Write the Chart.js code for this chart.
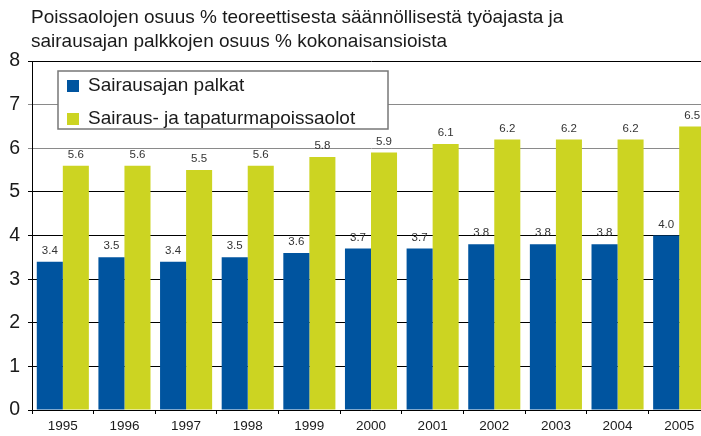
<!DOCTYPE html>
<html>
<head>
<meta charset="utf-8">
<script src="https://cdn.jsdelivr.net/npm/chart.js@4.4.0/dist/chart.umd.min.js"></script>
<style>
    html, body { margin: 0; padding: 0; background: #fff; overflow: hidden; width: 701px; height: 436px; }
    #wrap { position: relative; width: 712px; height: 436px; }
    #title {
        position: absolute; left: 31px; top: 5px;
        font-family: "Liberation Sans", Arial, sans-serif; font-size: 19px; line-height: 24px; color: #1a1a1a;
    }
</style>
</head>
<body>
<div id="wrap">
    <div id="title">Poissaolojen osuus % teoreettisesta säännöllisestä työajasta ja<br>sairausajan palkkojen osuus % kokonaisansioista</div>
    <canvas id="chart" width="712" height="436"></canvas>
</div>
<script>
const years = ['1995', '1996', '1997', '1998', '1999', '2000', '2001', '2002', '2003', '2004', '2005'];
const palkat = [3.4, 3.5, 3.4, 3.5, 3.6, 3.7, 3.7, 3.8, 3.8, 3.8, 4.0];
const poissaolot = [5.6, 5.6, 5.5, 5.6, 5.8, 5.9, 6.1, 6.2, 6.2, 6.2, 6.5];
const seriesNames = ['Sairausajan palkat', 'Sairaus- ja tapaturmapoissaolot'];
const yTicks = [0, 1, 2, 3, 4, 5, 6, 7, 8];

const BLUE = '#00549f';
const GREEN = '#ccd422';
const FONT = '"Liberation Sans", Arial, sans-serif';

// value labels above bars
const valueLabels = {
    id: 'valueLabels',
    afterDatasetsDraw(chart) {
        const ctx = chart.ctx;
        ctx.save();
        ctx.font = '11.5px ' + FONT;
        ctx.fillStyle = '#333';
        ctx.textAlign = 'center';
        ctx.textBaseline = 'middle';
        chart.data.datasets.forEach((ds, di) => {
            chart.getDatasetMeta(di).data.forEach((bar, i) => {
                ctx.fillText(ds.data[i].toFixed(1), bar.x, bar.y - 11);
            });
        });
        ctx.restore();
    }
};

// boxed legend inside the plot
const boxLegend = {
    id: 'boxLegend',
    afterDraw(chart) {
        const ctx = chart.ctx;
        const a = chart.chartArea;
        const x = a.left + 26, y = a.top + 10, w = 330, h = 58;
        ctx.save();
        ctx.fillStyle = '#fff';
        ctx.fillRect(x, y, w, h);
        ctx.strokeStyle = '#777';
        ctx.lineWidth = 1.5;
        ctx.strokeRect(x, y, w, h);
        ctx.font = '19px ' + FONT;
        ctx.textBaseline = 'middle';
        chart.data.datasets.forEach((ds, i) => {
            const cy = y + 15 + i * 33;
            ctx.fillStyle = ds.backgroundColor;
            ctx.fillRect(x + 9, cy - 6, 12, 12);
            ctx.fillStyle = '#1a1a1a';
            ctx.fillText(ds.label, x + 30, cy);
        });
        ctx.restore();
    }
};

new Chart(document.getElementById('chart'), {
    type: 'bar',
    data: {
        labels: years,
        datasets: [
            { label: seriesNames[0], data: palkat, backgroundColor: BLUE, categoryPercentage: 0.845, barPercentage: 1 },
            { label: seriesNames[1], data: poissaolot, backgroundColor: GREEN, categoryPercentage: 0.845, barPercentage: 1 }
        ]
    },
    options: {
        responsive: false,
        animation: false,
        layout: { padding: { top: 61, right: 2, left: 0, bottom: 0 } },
        plugins: {
            legend: { display: false },
            tooltip: { enabled: false }
        },
        scales: {
            x: {
                afterFit: (s) => { s.height = 26; },
                border: { color: '#000', width: 1 },
                grid: { drawOnChartArea: false, drawTicks: true, tickLength: 4, color: '#000' },
                ticks: { color: '#1a1a1a', font: { family: FONT, size: 13.5 }, padding: 4 }
            },
            y: {
                min: 0,
                max: 8,
                afterFit: (s) => { s.width = 32; },
                afterBuildTicks: (s) => { s.ticks = yTicks.map(v => ({ value: v })); },
                border: { color: '#000', width: 1 },
                grid: {
                    tickLength: 4,
                    color: (c) => (c.tick && (c.tick.value === 6 || c.tick.value === 7)) ? '#8a8a8a' : '#000'
                },
                ticks: { color: '#1a1a1a', font: { family: FONT, size: 19.5 }, padding: 8 }
            }
        }
    },
    plugins: [valueLabels, boxLegend]
});
</script>
</body>
</html>
